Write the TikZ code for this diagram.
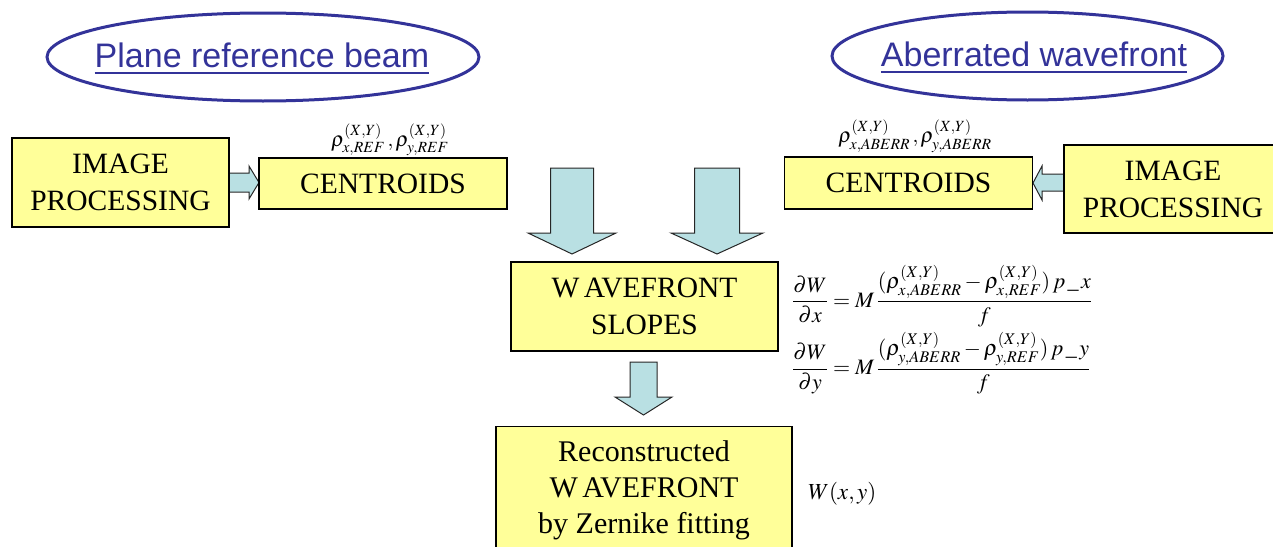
\documentclass[tikz,border=0pt]{standalone}
\usepackage{amsmath}
\usepackage{mathptmx}
\usepackage{fontspec}
\setmainfont{Liberation Serif}
\newfontfamily\arialfont{Liberation Sans}
\usetikzlibrary{shapes.geometric}
\definecolor{boxyellow}{RGB}{255,255,153}
\definecolor{arrowfill}{RGB}{185,224,227}
\definecolor{navy}{RGB}{51,51,153}
\tikzset{
  box/.style={draw=black, line width=1.2pt, fill=boxyellow, inner sep=0pt, align=center,
    font=\fontsize{29.5}{37}\selectfont},
  blockarrow/.style={draw=black!85, line width=1pt, fill=arrowfill, line join=miter},
  oval/.style={ellipse, draw=navy, line width=3pt, inner sep=0pt},
  ovaltext/.style={text=navy, font=\arialfont\fontsize{34}{38}\selectfont},
  mathlabel/.style={font=\fontsize{21}{25}\selectfont, inner sep=0pt},
  eqlabel/.style={font=\fontsize{22}{26}\selectfont, inner sep=0pt},
}
\begin{document}
\begin{tikzpicture}[x=1pt,y=-1pt]
\clip (0,0) rectangle (1273,546);
\useasboundingbox (0,0) rectangle (1273,546);
% ellipses
\node[oval, minimum width=432, minimum height=88] (e1) at (263,57) {};
\node[ovaltext] (t1) at (262,59) {\underline{Plane reference beam}};
\node[oval, minimum width=391, minimum height=88] (e2) at (1027.5,56) {};
\node[ovaltext] (t2) at (1034,58) {\underline{Aberrated wavefront}};
% block arrows
\draw[blockarrow] (228,173) -- (249,173) -- (249,166) -- (259,182.5) -- (249,199) -- (249,192) -- (228,192) -- cycle;
\draw[blockarrow] (1065,174) -- (1042,174) -- (1042,166) -- (1033,183) -- (1042,200) -- (1042,191) -- (1065,191) -- cycle;
\draw[blockarrow] (550.5,168) -- (593.5,168) -- (593.5,233) -- (616,233) -- (572,254) -- (528,233) -- (550.5,233) -- cycle;
\draw[blockarrow] (694.5,168) -- (739.5,168) -- (739.5,233) -- (763,233) -- (717,254) -- (671,233) -- (694.5,233) -- cycle;
\draw[blockarrow] (630,362) -- (657,362) -- (657,397) -- (672,397) -- (643.5,415) -- (615,397) -- (630,397) -- cycle;
% boxes
\node[box, minimum width=217, minimum height=89] (imgL) at (120.5,182.5) {IMAGE\\PROCESSING};
\node[box, minimum width=248, minimum height=51] (cenL) at (383,183.5) {CENTROIDS};
\node[box, minimum width=248, minimum height=52] (cenR) at (908.5,183) {CENTROIDS};
\node[box, minimum width=218, minimum height=88] (imgR) at (1173,189) {IMAGE\\PROCESSING};
\node[box, minimum width=267, minimum height=89] (slopes) at (644.5,306.5) {W\kern0.15em AVEFRONT\\SLOPES};
\node[box, minimum width=296, minimum height=127, font=\fontsize{30}{36}\selectfont] (recon) at (644,490) {Reconstructed\\W\kern0.15em AVEFRONT\\by Zernike fitting};
% labels
\node[mathlabel] (rhoL) at (390,140) {$\rho^{(X,Y)}_{x,REF}\,,\rho^{(X,Y)}_{y,REF}$};
\node[mathlabel] (rhoR) at (915,136) {$\rho^{(X,Y)}_{x,ABERR}\,,\rho^{(X,Y)}_{y,ABERR}$};
\node[eqlabel, anchor=west] (eqx) at (792,296) {$\dfrac{\partial W}{\partial x}=M\,\dfrac{(\rho^{(X,Y)}_{x,ABERR}-\rho^{(X,Y)}_{x,REF})\,p\,\_\,x}{f}$};
\node[eqlabel, anchor=west] (eqy) at (792,363) {$\dfrac{\partial W}{\partial y}=M\,\dfrac{(\rho^{(X,Y)}_{y,ABERR}-\rho^{(X,Y)}_{y,REF})\,p\,\_\,y}{f}$};
\node[font=\fontsize{23}{27}\selectfont, inner sep=0pt, anchor=west] (wxy) at (808,494) {$W(x,y)$};
\end{tikzpicture}
\end{document}
